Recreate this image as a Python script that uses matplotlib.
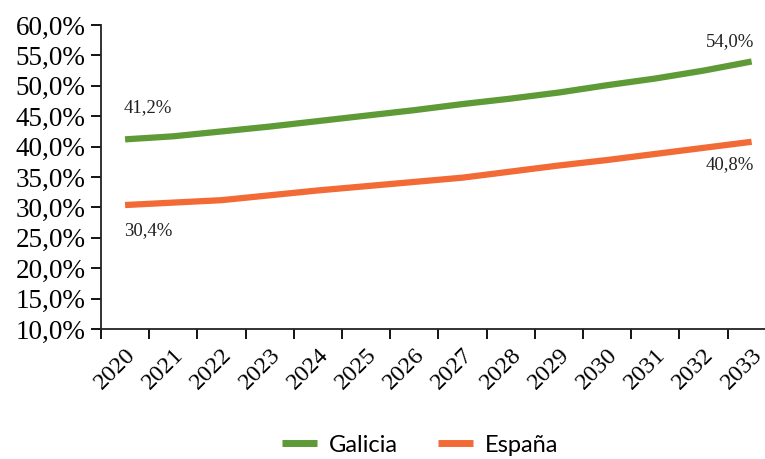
import matplotlib.pyplot as plt
import numpy as np

# datos (% de poblacion)
years = ['2020', '2021', '2022', '2023', '2024', '2025', '2026',
         '2027', '2028', '2029', '2030', '2031', '2032', '2033']
galicia = [41.2, 41.7, 42.5, 43.3, 44.2, 45.1, 46.0,
           47.0, 47.9, 48.9, 50.1, 51.2, 52.5, 54.0]
espana = [30.4, 30.8, 31.2, 32.0, 32.8, 33.5, 34.2,
          34.9, 35.9, 36.9, 37.8, 38.8, 39.8, 40.8]
yticks = [10, 15, 20, 25, 30, 35, 40, 45, 50, 55, 60]

verde = '#5e9a35'
naranja = '#f26a35'


def fmt(v):
	return '{:.1f}%'.format(v).replace('.', ',')


fig = plt.figure(figsize=(7.65, 4.59), dpi=100)
ax = fig.add_axes([0.132, 0.283, 0.882, 0.6625])

x = np.arange(len(years))
ax.plot(x, galicia, color=verde, lw=4.5, label='Galicia', solid_capstyle='butt')
ax.plot(x, espana, color=naranja, lw=4.5, label='España', solid_capstyle='butt')

# etiquetas de primer y ultimo valor
lab = dict(fontsize=13.5, family='Liberation Serif', color='#222222')
ax.annotate(fmt(galicia[0]), (x[0], galicia[0]), xytext=(-1, 17), textcoords='offset points', ha='left', va='bottom', **lab)
ax.annotate(fmt(espana[0]), (x[0], espana[0]), xytext=(-1, -12), textcoords='offset points', ha='left', va='top', **lab)
ax.annotate(fmt(galicia[-1]), (x[-1], galicia[-1]), xytext=(2, 8), textcoords='offset points', ha='right', va='bottom', **lab)
ax.annotate(fmt(espana[-1]), (x[-1], espana[-1]), xytext=(2, -10), textcoords='offset points', ha='right', va='top', **lab)

ax.set_ylim(10, 60)
ax.set_yticks(yticks)
ax.set_yticklabels([fmt(v) for v in yticks], family='Liberation Serif', fontsize=19.5)
ax.tick_params(axis='y', length=7, width=1.3, pad=4, direction='out')

ax.set_xlim(-0.5, len(years) - 0.5)
ax.set_xticks(np.arange(-0.5, len(years)), minor=False)
ax.set_xticklabels([])
ax.set_xticks(x, minor=True)
ax.set_xticklabels(years, minor=True, rotation=45, ha='right', va='top',
                   rotation_mode='anchor', family='Liberation Serif', fontsize=17.5)
ax.tick_params(axis='x', which='major', length=7, width=1.3, direction='out')
ax.tick_params(axis='x', which='minor', length=0, pad=11)

for s in ['top', 'right']:
	ax.spines[s].set_visible(False)
for s in ['left', 'bottom']:
	ax.spines[s].set_linewidth(1.3)
	ax.spines[s].set_color('#222222')

leg = ax.legend(loc='center', bbox_to_anchor=(420 / 765, 14 / 459), bbox_transform=fig.transFigure,
                ncol=2, frameon=False, handlelength=1.5, handletextpad=0.5, columnspacing=1.7,
                prop={'family': 'Lato', 'size': 17})
for h in leg.get_lines():
	h.set_linewidth(5)

fig.savefig('out.png', dpi=100)
